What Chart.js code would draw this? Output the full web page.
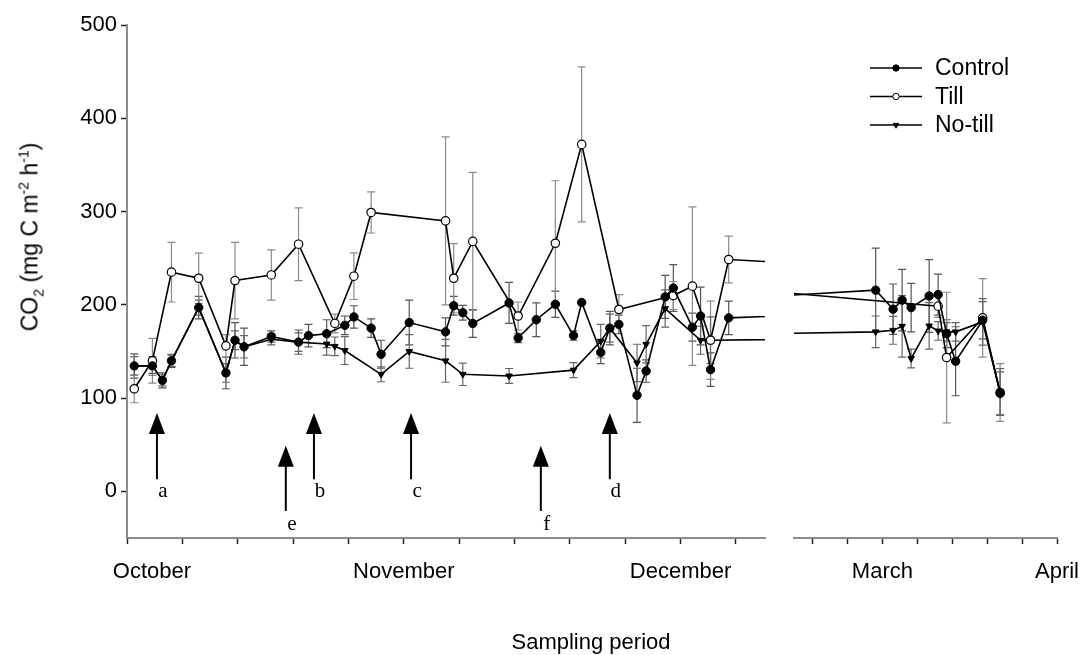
<!DOCTYPE html>
<html>
<head>
<meta charset="utf-8">
<script src="https://cdn.jsdelivr.net/npm/chart.js@4.4.0/dist/chart.umd.min.js"></script>
<style>
    body { margin: 0; background: #fff; }
    #wrap { position: relative; width: 1087px; height: 655px; font-family: "Liberation Sans", Arial, sans-serif; color: #000; }
    #wrap canvas { position: absolute; left: 0; top: 0; }
    #ytitle { position: absolute; left: 30px; top: 237px; transform: translate(-50%, -50%) rotate(-90deg); white-space: nowrap; font-size: 23px; }
    #xtitle { position: absolute; left: 591px; top: 642px; transform: translate(-50%, -50%); white-space: nowrap; font-size: 22px; }
    sub, sup { font-size: 14px; line-height: 0; }
</style>
</head>
<body>
<div id="wrap">
    <canvas id="chartLeft" width="1087" height="655"></canvas>
    <canvas id="chartRight" width="1087" height="655"></canvas>
    <div id="ytitle">CO<sub>2</sub> (mg C m<sup>-2</sup> h<sup>-1</sup>)</div>
    <div id="xtitle">Sampling period</div>
</div>
<script>
// sampling dates, days since 1 October
const days = [0.8, 2.8, 3.9, 4.9, 7.9, 10.9, 11.9, 12.9, 15.9, 18.9,
    20.0, 22.0, 22.9, 24.0, 25.0, 26.9, 28.0, 31.1, 35.1, 36.0,
    37.0, 38.1, 42.1, 43.1, 45.1, 47.2, 49.2, 50.1, 52.2, 53.2,
    54.2, 56.2, 57.2, 59.3, 60.2, 62.3, 63.2, 64.3, 66.3,
    149.8, 152.9, 154.5, 156.1, 159.3, 160.9, 162.4, 164.0, 168.8, 171.9];

const control = [134.5, 134.5, 119, 140, 197, 127, 162, 155, 166, 160,
    167, 169, null, 178, 187, 175, 147, 181, 171, 199,
    191.5, 180, 202, 164.5, 184, 200.6, 167, 202.5, 149, 175,
    179, 103, 129, 208.5, 218, 176, 188, 130.5, 186,
    215.7, 195.3, 205, 197, 209.5, 211, 169, 139.5, 183.5, 105];
const till = [110, 140, null, 235, 228.5, 156, 226, null, 232, 265,
    null, null, 180, null, 230.7, 299, null, null, 290, 228.5,
    null, 268, null, 188, null, 266, null, 372, null, null,
    195, null, null, null, 210, 220, null, 162, 248.6,
    null, null, null, null, null, 198.5, 143.5, null, 186, 106];
const noTill = [134.5, 134.5, 119, 140, 197, 127, 162, 155, 163, 160,
    null, 158, 155.5, 151, null, null, 125.5, 150, 140, null,
    125.5, null, 123.7, null, null, null, 130, null, 161, 175,
    null, 137.7, 157.7, 196, null, null, 162, 162, null,
    171, 172.7, 177, 142.4, 177.4, 172, 171, 171, 181.7, 106.5];

// standard errors (half length of the bars)
const controlErr = [13, 8, 8, 7, 12, 17, 19, 20, 6, 13,
    12, 15, null, 10, 12, 10, 15, 24, 15, 10,
    8, 15, 22, 5, 18, 14, 5, null, 12, 18,
    10, 29, 12, 23, 25, 15, 31, 18, 18,
    45, 27, 33, 26, 39, 22, 15, 37, 20, 23];
const tillErr = [15, 24, null, 32, 27, 12, 41, null, 27, 39,
    null, null, 10, null, 25, 22, null, null, 90, 37,
    null, 74, null, 15, null, 67, null, 83, null, null,
    16, null, null, null, 15, 85, null, 42, 25,
    null, null, null, null, null, 12, 70, null, 42, 31];
const noTillErr = [10, 10, 6, 6, 8, 10, 10, 12, 6, 10,
    null, 12, 10, 15, null, null, 8, 18, 23, null,
    12, null, 8, null, null, null, 8, null, 18, 15,
    null, 20, 20, 20, null, null, 15, 25, null,
    17, 15, 33, 10, 25, 10, 10, 10, 25, 25];

const yTicks = [0, 100, 200, 300, 400, 500];

// axis ticks (days) and month labels for both parts of the broken axis
const autumnTicks = [0, 6.1, 12.2, 18.3, 24.4, 30.5, 36.6, 42.7, 48.8, 54.9, 61, 67.1];
const autumnMonths = { 2.75: 'October', 30.5: 'November', 61: 'December' };
const springTicks = [138.6, 144.8, 151, 157.2, 163.4, 169.6, 175.8, 182];
const springMonths = { 151: 'March', 182: 'April' };

// management events
const eventDays = [3.3, 20.6, 31.3, 53.2, 17.5, 45.6];
const eventLetters = ['a', 'b', 'c', 'd', 'e', 'f'];
const eventRow = [0, 0, 0, 0, 1, 1];

Chart.defaults.font.family = "'Liberation Sans', Arial, sans-serif";
Chart.defaults.font.size = 22;
Chart.defaults.color = '#000';

function seriesPoints(vals, errs) {
    const pts = [];
    days.forEach((d, i) => {
        if (vals[i] !== null) pts.push({ x: d, y: vals[i], err: errs[i] });
    });
    return pts;
}

function makeDatasets() {
    return [
        {
            label: 'Control',
            data: seriesPoints(control, controlErr),
            borderColor: '#000', borderWidth: 1.6,
            pointStyle: 'circle', pointRadius: 4.2,
            pointBackgroundColor: '#000', pointBorderColor: '#000', pointBorderWidth: 1,
            errColor: '#555'
        },
        {
            label: 'Till',
            data: seriesPoints(till, tillErr),
            borderColor: '#000', borderWidth: 1.6,
            pointStyle: 'circle', pointRadius: 4.2,
            pointBackgroundColor: '#fff', pointBorderColor: '#000', pointBorderWidth: 1.2,
            errColor: '#8a8a8a'
        },
        {
            label: 'No-till',
            data: seriesPoints(noTill, noTillErr),
            borderColor: '#000', borderWidth: 1.6,
            pointStyle: 'triangle', pointRotation: 180, pointRadius: 3.8,
            pointBackgroundColor: '#000', pointBorderColor: '#000', pointBorderWidth: 1,
            errColor: '#666'
        }
    ];
}

const errorBarPlugin = {
    id: 'errorBars',
    beforeDatasetsDraw(chart) {
        const { ctx, chartArea, scales: { x, y } } = chart;
        ctx.save();
        ctx.beginPath();
        ctx.rect(chartArea.left - 6, chartArea.top, chartArea.width + 12, chartArea.height);
        ctx.clip();
        ctx.lineWidth = 1.2;
        chart.data.datasets.forEach(ds => {
            ctx.strokeStyle = ds.errColor;
            ds.data.forEach(p => {
                if (p.err == null || p.x < x.min || p.x > x.max) return;
                const px = x.getPixelForValue(p.x);
                const top = y.getPixelForValue(p.y + p.err);
                const bot = y.getPixelForValue(p.y - p.err);
                ctx.beginPath();
                ctx.moveTo(px, top); ctx.lineTo(px, bot);
                ctx.moveTo(px - 4, top); ctx.lineTo(px + 4, top);
                ctx.moveTo(px - 4, bot); ctx.lineTo(px + 4, bot);
                ctx.stroke();
            });
        });
        ctx.restore();
    }
};

const arrowPlugin = {
    id: 'eventArrows',
    afterDatasetsDraw(chart) {
        const { ctx, scales: { x, y } } = chart;
        // [tip, tail, letter] in y units for the two rows of arrows
        const rows = [[84, 13, 0], [49, -21, -35]];
        ctx.save();
        ctx.fillStyle = '#000';
        ctx.strokeStyle = '#000';
        ctx.lineWidth = 2;
        ctx.font = "21px 'Liberation Serif', 'Times New Roman', serif";
        ctx.textAlign = 'center';
        ctx.textBaseline = 'middle';
        eventDays.forEach((d, i) => {
            const r = rows[eventRow[i]];
            const px = x.getPixelForValue(d);
            const tip = y.getPixelForValue(r[0]);
            const tail = y.getPixelForValue(r[1]);
            ctx.beginPath();
            ctx.moveTo(px, tip + 16);
            ctx.lineTo(px, tail);
            ctx.stroke();
            ctx.beginPath();
            ctx.moveTo(px, tip);
            ctx.lineTo(px - 8, tip + 21);
            ctx.lineTo(px + 8, tip + 21);
            ctx.closePath();
            ctx.fill();
            ctx.fillText(eventLetters[i], px + 6, y.getPixelForValue(r[2]));
        });
        ctx.restore();
    }
};

const legendPlugin = {
    id: 'lineLegend',
    afterDraw(chart) {
        const { ctx, chartArea } = chart;
        const x0 = chartArea.left + 76;
        ctx.save();
        ctx.font = "23px 'Liberation Sans', Arial, sans-serif";
        ctx.textBaseline = 'middle';
        chart.data.datasets.forEach((ds, i) => {
            const yy = chartArea.top + 43 + i * 28.5;
            ctx.strokeStyle = '#000';
            ctx.lineWidth = 1.6;
            ctx.beginPath();
            ctx.moveTo(x0, yy);
            ctx.lineTo(x0 + 52, yy);
            ctx.stroke();
            ctx.fillStyle = ds.pointBackgroundColor;
            ctx.lineWidth = 1;
            Chart.helpers.drawPoint(ctx, {
                pointStyle: ds.pointStyle, rotation: ds.pointRotation || 0,
                radius: 3.2, borderWidth: 1
            }, x0 + 26, yy);
            ctx.fillStyle = '#000';
            ctx.fillText(ds.label, x0 + 65, yy + 1);
        });
        ctx.restore();
    }
};

function xAxis(min, max, tickValues, monthNames) {
    return {
        type: 'linear',
        min: min,
        max: max,
        border: { color: '#8c8c8c', width: 2 },
        grid: {
            drawOnChartArea: false,
            drawTicks: true,
            tickLength: 6,
            tickWidth: 1.5,
            tickColor: ctx => (ctx.tick && ctx.tick.label === 'October') ? 'rgba(0,0,0,0)' : '#222'
        },
        afterBuildTicks: scale => {
            const vals = tickValues.concat(Object.keys(monthNames).map(Number))
                .filter((v, i, a) => a.indexOf(v) === i)
                .sort((a, b) => a - b);
            scale.ticks = vals.map(v => ({ value: v }));
        },
        ticks: {
            autoSkip: false,
            maxRotation: 0,
            padding: 15,
            callback: value => monthNames[value] || ''
        },
        afterFit: scale => {
            scale.height = 117;
            scale.paddingLeft = 0;
            scale.paddingRight = 0;
        }
    };
}

function yAxis(show) {
    return {
        display: show,
        min: -50,
        max: 500,
        border: { color: '#8c8c8c', width: 2 },
        grid: { drawOnChartArea: false, tickLength: 6, tickWidth: 1.5, tickColor: '#222' },
        afterBuildTicks: scale => { scale.ticks = yTicks.map(v => ({ value: v })); },
        ticks: { padding: 4 },
        afterFit: scale => {
            if (show) scale.width = 127;
            scale.paddingTop = 0;
            scale.paddingBottom = 0;
        }
    };
}

const baseOptions = {
    responsive: false,
    animation: false,
    devicePixelRatio: 1,
    elements: { line: { tension: 0 } },
    plugins: { legend: { display: false }, tooltip: { enabled: false } }
};

// October - December
new Chart(document.getElementById('chartLeft'), {
    type: 'line',
    data: { datasets: makeDatasets() },
    options: Object.assign({}, baseOptions, {
        layout: { padding: { left: 0, right: 322, top: 25, bottom: 0 } },
        scales: {
            x: xAxis(0, 70.3, autumnTicks, autumnMonths),
            y: yAxis(true)
        }
    }),
    plugins: [errorBarPlugin, arrowPlugin]
});

// March - April
new Chart(document.getElementById('chartRight'), {
    type: 'line',
    data: { datasets: makeDatasets() },
    options: Object.assign({}, baseOptions, {
        layout: { padding: { left: 794, right: 30, top: 25, bottom: 0 } },
        scales: {
            x: xAxis(135.3, 182, springTicks, springMonths),
            y: yAxis(false)
        }
    }),
    plugins: [errorBarPlugin, legendPlugin]
});
</script>
</body>
</html>
